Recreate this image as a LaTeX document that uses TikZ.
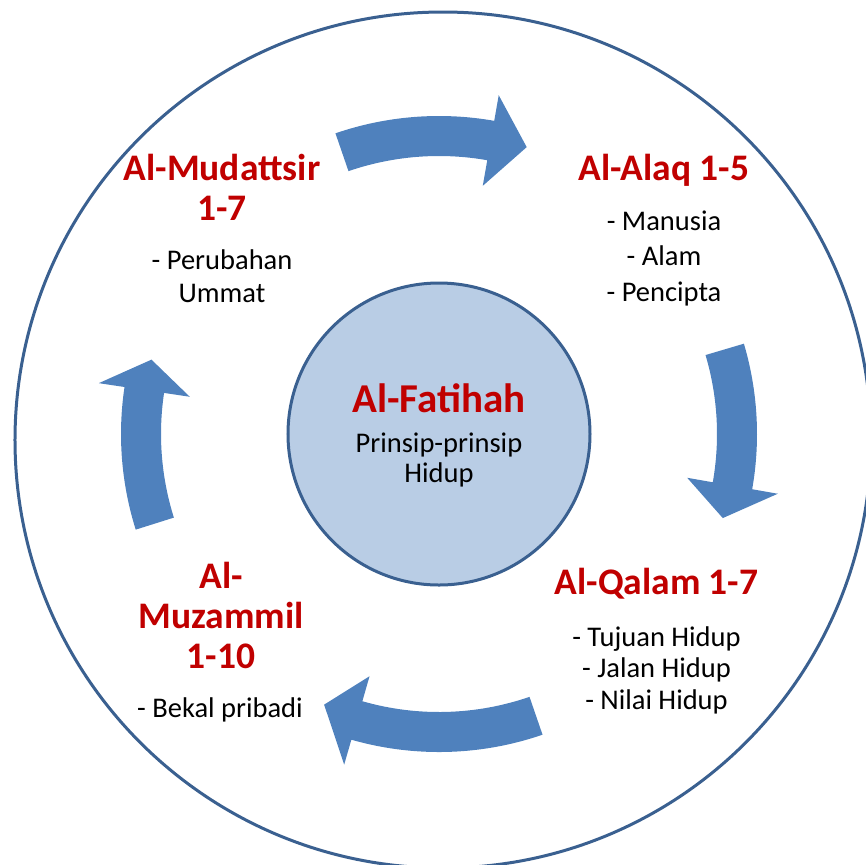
\documentclass[tikz,border=0pt]{standalone}
\usepackage{fontspec}
\setmainfont{Carlito}
\usetikzlibrary{positioning}
\definecolor{ringblue}{HTML}{4F81BD}
\definecolor{lineblue}{HTML}{3A6090}
\definecolor{coreblue}{HTML}{B9CDE5}
\definecolor{surared}{HTML}{C00000}

\begin{document}
\begin{tikzpicture}[x=0.5pt,y=0.5pt,
			sura/.style={text=surared,font=\fontsize{18.75}{20}\selectfont\bfseries,align=center,inner sep=0pt},
			ayat/.style={font=\fontsize{14.25}{16.5}\selectfont,align=center,inner sep=0pt},
			core/.style={circle,draw=lineblue,line width=1.5pt,fill=coreblue,minimum size=151pt,inner sep=0pt},
			cyclearrow/.style={fill=ringblue,draw=none}
			]
			\useasboundingbox (-439,-430) rectangle (427,434);
			\clip (-439,-430) rectangle (427,434);
			\draw[lineblue,line width=1.5pt] (4,-6) circle[radius=428];
			\node[core] (pusat) at (0,0) {};
			% arrows round the ring
			\fill[cyclearrow] (109:318) arc[start angle=109,end angle=80,radius=318] -- (80:344) -- (73:300) -- (80:252) -- (80:278) arc[start angle=80,end angle=109,radius=278] -- cycle;
			\fill[cyclearrow] (16.5:318) arc[start angle=16.5,end angle=-10,radius=318] -- (-10:344) -- (-16.5:296) -- (-10:252) -- (-10:278) arc[start angle=-10,end angle=16.5,radius=278] -- cycle;
			\fill[cyclearrow] (-71:318) arc[start angle=-71,end angle=-106,radius=318] -- (-106:344) -- (-113:294) -- (-106:252) -- (-106:278) arc[start angle=-106,end angle=-71,radius=278] -- cycle;
			\fill[cyclearrow] (197.5:318) arc[start angle=197.5,end angle=171.5,radius=318] -- (171.5:344) -- (165.5:297) -- (171.5:252) -- (171.5:278) arc[start angle=171.5,end angle=197.5,radius=278] -- cycle;
			% centre
			\node[sura,font=\fontsize{20.5}{22}\selectfont\bfseries,anchor=base] (fatihah) at (0,22) {Al-Fatihah};
			\node[ayat,font=\fontsize{14.25}{15}\selectfont] (prinsip) [below=10pt of fatihah] {Prinsip-prinsip\\Hidup};
			% the four suras
			\node[sura] (mudattsir) at (-217,247) {Al-Mudattsir\\1-7};
			\node[ayat] (umat) [below=14.5pt of mudattsir] {- Perubahan\\Ummat};
			\node[sura,anchor=base] (alaq) at (225,254) {Al-Alaq 1-5};
			\node[ayat,font=\fontsize{14.25}{17.75}\selectfont] (alam) [below=12pt of alaq] {- Manusia\\- Alam\\- Pencipta};
			\node[sura,anchor=base] (qalam) at (217.5,-160) {Al-Qalam 1-7};
			\node[ayat,font=\fontsize{14.25}{15.75}\selectfont] (hidup) [below=13.5pt of qalam] {- Tujuan Hidup\\- Jalan Hidup\\- Nilai Hidup};
			\node[sura] (muzammil) at (-218,-181) {Al-\\Muzammil\\1-10};
			\node[ayat,anchor=base] (bekal) at (-219,-283) {- Bekal pribadi};
		\end{tikzpicture}
\end{document}
